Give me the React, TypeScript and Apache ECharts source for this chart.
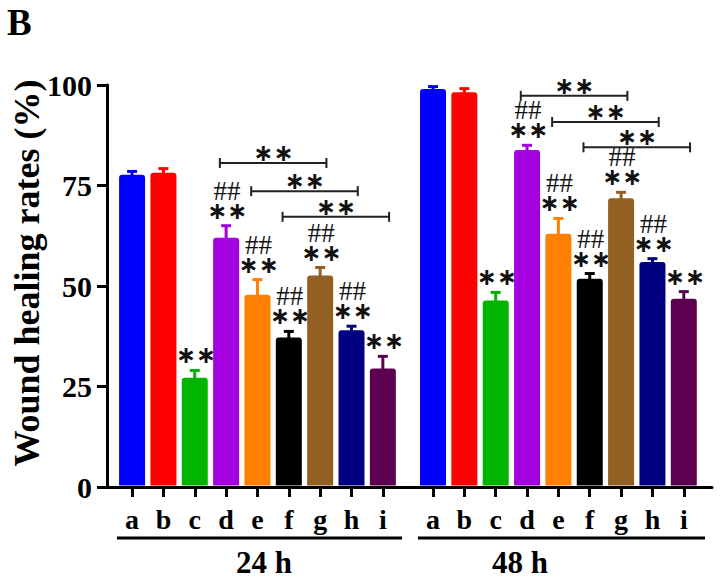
import React, { useEffect, useRef } from "react";
import * as echarts from "echarts";

const letters = ["a", "b", "c", "d", "e", "f", "g", "h", "i"];
const barColors = ["#0000FF", "#FF0000", "#00B400", "#A500DF", "#FF8000", "#000000", "#936023", "#000080", "#5C0050"];
const rate24 = [77.7, 78.2, 27.2, 62.0, 47.8, 37.2, 52.6, 39.0, 29.5];
const err24 = [0.8, 1.0, 1.8, 3.0, 3.8, 1.5, 2.0, 1.0, 3.0];
const rate48 = [99.0, 98.2, 46.4, 83.8, 63.0, 51.8, 71.8, 56.0, 46.8];
const err48 = [0.6, 0.9, 2.0, 1.2, 3.8, 1.3, 1.5, 0.8, 1.8];
const starMarks = ["", "", "**", "**", "**", "**", "**", "**", "**"];
const hashMarks = ["", "", "", "##", "##", "##", "##", "##", ""];
// [from index, to index, height]
const brackets24 = [[3, 6, 80.6], [4, 7, 73.6], [5, 8, 67.2]];
const brackets48 = [[3, 6, 97.3], [4, 7, 90.8], [5, 8, 84.5]];
const groupNames = ["24 h", "48 h"];
const yTitle = "Wound healing rates (%)";
const yTicks = [0, 25, 50, 75, 100];

const LEAD = 0.8; // empty space before the first bar, in bar slots
const GROUP_OFFSET = 9.6;
const BAR_W = 26;
const SERIF = "'Liberation Serif', 'Times New Roman', serif";
const STAR_FONT = "'DejaVu Sans', sans-serif";
const STAR_TEXT = "∗∗";

export default function App() {
  const ref = useRef<HTMLDivElement>(null);
  useEffect(() => {
    if (!ref.current) return;
    const chart = echarts.init(ref.current, undefined, { renderer: "svg" });

    const pos = (g: number, i: number) => LEAD + g * GROUP_OFFSET + i;
    const groups = [
      { rates: rate24, errs: err24, brackets: brackets24 },
      { rates: rate48, errs: err48, brackets: brackets48 },
    ];
    const barData: any[] = [];
    const bracketData: any[] = [];
    const tickPositions: number[] = [];
    groups.forEach((grp, g) => {
      grp.rates.forEach((v, i) => {
        const x = pos(g, i);
        tickPositions.push(x);
        barData.push({ value: [x, v, grp.errs[i], i] });
      });
      grp.brackets.forEach((b) => {
        bracketData.push({ value: [pos(g, b[0]), pos(g, b[1]), b[2]] });
      });
    });
    const labelFor = (val: number) => {
      const idx = tickPositions.findIndex((p) => Math.abs(p - val) < 0.01);
      return idx >= 0 ? letters[idx % 9] : "";
    };

    const option: any = {
      animation: false,
      grid: { left: 107, right: 8, top: 85, bottom: 93, containLabel: false, outerBoundsMode: "none" },
      xAxis: {
        type: "value",
        min: 0,
        max: 19.3,
        axisLine: { show: true, onZero: false, lineStyle: { color: "#000", width: 3 } },
        axisTick: { show: true, length: 10, lineStyle: { color: "#000", width: 3 }, customValues: tickPositions },
        axisLabel: {
          customValues: tickPositions,
          formatter: (v: number) => labelFor(v),
          color: "#000",
          fontFamily: SERIF,
          fontWeight: "bold",
          fontSize: 28,
          margin: 18,
        },
        splitLine: { show: false },
      },
      yAxis: {
        type: "value",
        position: "left",
        min: 0,
        max: 100,
        interval: 25,
        axisLine: { show: true, onZero: false, lineStyle: { color: "#000", width: 3 } },
        axisTick: { show: true, length: 10, lineStyle: { color: "#000", width: 3 } },
        axisLabel: {
          color: "#000",
          fontFamily: SERIF,
          fontWeight: "bold",
          fontSize: 30,
          margin: 15,
          formatter: (v: number) => (yTicks.includes(v) ? String(v) : ""),
        },
        splitLine: { show: false },
      },
      series: [
        {
          type: "custom",
          name: "bars",
          data: barData,
          encode: { x: 0, y: 1 },
          z: 2,
          renderItem: (params: any, api: any) => {
            const x = api.value(0);
            const y = api.value(1);
            const e = api.value(2);
            const idx = api.value(3);
            const color = barColors[idx];
            const base = api.coord([x, 0]);
            const top = api.coord([x, y]);
            const p1 = api.coord([x, y + e]);
            const children: any[] = [
              {
                type: "rect",
                shape: { x: base[0] - BAR_W / 2, y: top[1], width: BAR_W, height: base[1] - top[1] - 1.5, r: [3, 3, 0, 0] },
                style: { fill: color },
              },
              { type: "line", shape: { x1: top[0], y1: top[1] + 1, x2: p1[0], y2: p1[1] }, style: { stroke: color, lineWidth: 3 } },
              { type: "line", shape: { x1: p1[0] - 5, y1: p1[1], x2: p1[0] + 5, y2: p1[1] }, style: { stroke: color, lineWidth: 3 } },
            ];
            if (starMarks[idx]) {
              children.push({
                type: "text",
                style: {
                  text: STAR_TEXT,
                  x: p1[0] + 1,
                  y: p1[1] - 15,
                  align: "center",
                  verticalAlign: "middle",
                  font: `bold 24px ${STAR_FONT}`,
                  lineHeight: 16,
                  fill: "#111",
                },
              });
            }
            if (hashMarks[idx]) {
              children.push({
                type: "text",
                style: {
                  text: hashMarks[idx],
                  x: p1[0] + 1,
                  y: p1[1] - 35,
                  align: "center",
                  verticalAlign: "middle",
                  font: `27px ${SERIF}`,
                  lineHeight: 18,
                  fill: "#111",
                },
              });
            }
            return { type: "group", children };
          },
        },
        {
          type: "custom",
          name: "brackets",
          data: bracketData,
          encode: { x: [0, 1], y: 2 },
          z: 3,
          renderItem: (params: any, api: any) => {
            const a = api.coord([api.value(0) - 0.2, api.value(2)]);
            const b = api.coord([api.value(1) + 0.2, api.value(2)]);
            const st = { stroke: "#222", lineWidth: 2 };
            return {
              type: "group",
              children: [
                { type: "line", shape: { x1: a[0], y1: a[1], x2: b[0], y2: b[1] }, style: st },
                { type: "line", shape: { x1: a[0], y1: a[1] - 5, x2: a[0], y2: a[1] + 5 }, style: st },
                { type: "line", shape: { x1: b[0], y1: b[1] - 5, x2: b[0], y2: b[1] + 5 }, style: st },
                {
                  type: "text",
                  style: {
                    text: STAR_TEXT,
                    x: (a[0] + b[0]) / 2,
                    y: a[1] - 10,
                    align: "center",
                    verticalAlign: "middle",
                    font: `bold 24px ${STAR_FONT}`,
                    lineHeight: 16,
                    fill: "#111",
                  },
                },
              ],
            };
          },
        },
      ],
      graphic: [
        { type: "text", left: 7, top: 4, style: { text: "B", font: `bold 37px ${SERIF}`, fill: "#000" } },
        {
          type: "text",
          x: 27,
          y: 273,
          rotation: Math.PI / 2,
          style: { text: yTitle, align: "center", verticalAlign: "middle", font: `bold 36px ${SERIF}`, fill: "#000" },
        },
        { type: "line", shape: { x1: 117, y1: 538, x2: 402, y2: 538 }, style: { stroke: "#000", lineWidth: 3 } },
        { type: "line", shape: { x1: 418, y1: 538, x2: 705, y2: 538 }, style: { stroke: "#000", lineWidth: 3 } },
        { type: "text", x: 264, y: 562, style: { text: groupNames[0], align: "center", verticalAlign: "middle", font: `bold 31px ${SERIF}`, fill: "#000" } },
        { type: "text", x: 520, y: 562, style: { text: groupNames[1], align: "center", verticalAlign: "middle", font: `bold 31px ${SERIF}`, fill: "#000" } },
      ],
    };
    chart.setOption(option);
    return () => chart.dispose();
  }, []);
  return <div ref={ref} style={{ position: "fixed", left: 0, top: 0, width: 720, height: 580, background: "#fff" }} />;
}
